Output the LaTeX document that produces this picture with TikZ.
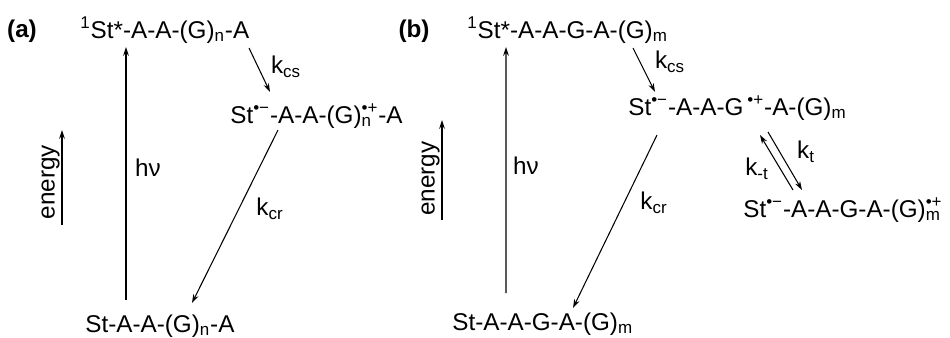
\documentclass[tikz,border=0pt]{standalone}
\usepackage{fontspec}
\setmainfont{Liberation Sans}
\usepackage{tikz}
\usetikzlibrary{calc,arrows.meta}

% radical ion charges: stacked sub- and superscript
\newcommand{\chgsub}[2]{\rlap{\textsubscript{#1}}\textsuperscript{#2}}

\begin{document}
\begin{tikzpicture}[
    state/.style={inner sep=0pt, anchor=base west, font=\fontsize{13.8}{16}\selectfont},
    rate/.style={inner sep=0pt, font=\fontsize{13.8}{16}\selectfont},
    arr/.style={-{Stealth[length=5pt,width=3.2pt]}, line width=0.6pt}
  ]
    \useasboundingbox (0,0) rectangle (19,6.74);

    % (a) simple donor
    \node[rate, font=\fontsize{13.8}{16}\selectfont\bfseries, anchor=base] (labA) at (0.44,6.0) {(a)};
    \node[state] (topA) at (1.60,5.98) {\textsuperscript{1}St*-A-A-(G)\textsubscript{n}-A};
    \node[state] (midA) at (4.60,4.28) {St\textsuperscript{•−}-A-A-(G)\chgsub{n}{•+}-A};
    \node[state] (botA) at (1.70,0.10) {St-A-A-(G)\textsubscript{n}-A};

    \draw[arr] ($(botA.base west)+(0.82,0.64)$) -- ($(topA.base west)+(0.92,-0.18)$);
    \node[rate] (hvA) at (2.96,3.38) {hν};
    \draw[arr] ($(topA.base west)+(3.38,-0.20)$) -- ($(midA.base west)+(0.80,0.62)$);
    \node[rate] (kcsA) at (5.72,5.40) {k\textsubscript{cs}};
    \draw[arr] ($(midA.base west)+(0.96,-0.14)$) -- ($(botA.base west)+(2.14,0.58)$);
    \node[rate] (kcrA) at (5.40,2.56) {k\textsubscript{cr}};

    \coordinate (enA0) at (1.24,2.24);
    \coordinate (enA1) at (1.24,4.14);
    \draw[arr] (enA0) -- (enA1);
    \node[rate, rotate=90, anchor=south] (enA) at (1.20,3.10) {energy};

    % (b) donor with hole trap
    \node[rate, font=\fontsize{13.8}{16}\selectfont\bfseries, anchor=base] (labB) at (8.28,6.0) {(b)};
    \node[state] (topB) at (9.34,5.98) {\textsuperscript{1}St*-A-A-G-A-(G)\textsubscript{m}};
    \node[state] (midB) at (12.56,4.44) {St\textsuperscript{•−}-A-A-G\,\textsuperscript{•+}-A-(G)\textsubscript{m}};
    \node[state] (rgtB) at (14.86,2.40) {St\textsuperscript{•−}-A-A-G-A-(G)\chgsub{m}{•+}};
    \node[state] (botB) at (9.04,0.14) {St-A-A-G-A-(G)\textsubscript{m}};

    \draw[arr] ($(botB.base west)+(1.08,0.74)$) -- ($(topB.base west)+(0.78,-0.18)$);
    \node[rate] (hvB) at (10.52,3.42) {hν};
    \draw[arr] ($(topB.base west)+(3.32,-0.20)$) -- ($(midB.base west)+(0.54,0.46)$);
    \node[rate] (kcsB) at (13.40,5.50) {k\textsubscript{cs}};
    \draw[arr] ($(midB.base west)+(0.58,-0.40)$) -- ($(botB.base west)+(2.42,0.44)$);
    \node[rate] (kcrB) at (13.08,2.68) {k\textsubscript{cr}};
    \draw[arr] ($(midB.base west)+(2.80,-0.34)$) -- ($(rgtB.base west)+(1.18,0.54)$);
    \node[rate] (ktB) at (16.12,3.70) {k\textsubscript{t}};
    \draw[arr] ($(rgtB.base west)+(1.00,0.54)$) -- ($(midB.base west)+(2.64,-0.40)$);
    \node[rate] (kmtB) at (15.14,3.36) {k\textsubscript{-t}};

    \coordinate (enB0) at (8.84,2.34);
    \coordinate (enB1) at (8.84,4.34);
    \draw[arr] (enB0) -- (enB1);
    \node[rate, rotate=90, anchor=south] (enB) at (8.80,3.17) {energy};
  \end{tikzpicture}
\end{document}
